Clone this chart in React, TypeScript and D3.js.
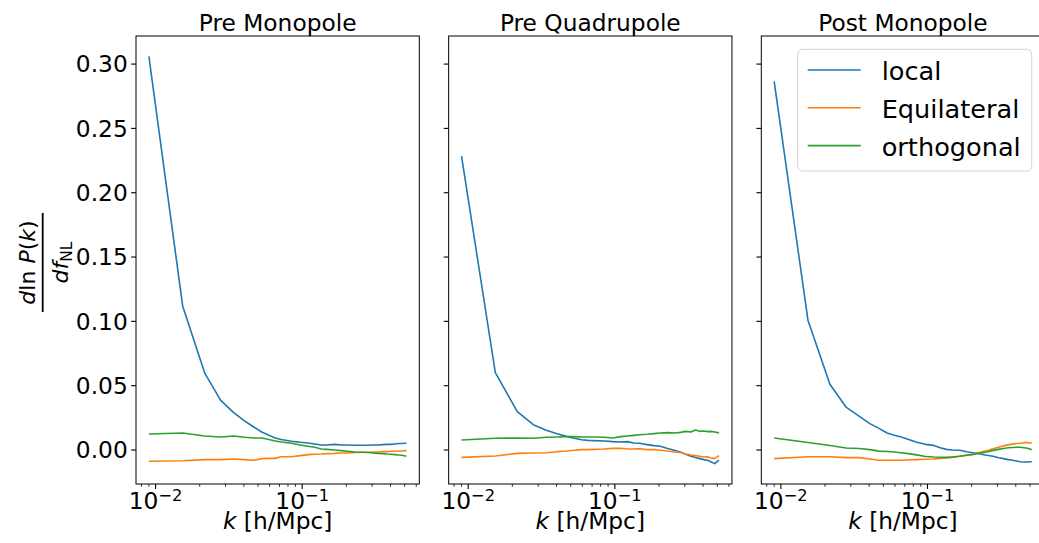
import React from "react";
import * as d3 from "d3";

// k bins [h/Mpc]
const K = [0.009, 0.0153, 0.0216, 0.0278, 0.0341, 0.0404, 0.0467, 0.053, 0.0593, 0.0655, 0.0718, 0.0844, 0.097, 0.1095, 0.122, 0.1346, 0.1472, 0.166, 0.185, 0.204, 0.229, 0.254, 0.28, 0.305, 0.33, 0.355, 0.38, 0.405, 0.43, 0.455, 0.48, 0.505, 0.514];

// Pre Monopole
const preMonoLocal = [0.306, 0.112, 0.06, 0.0386, 0.029, 0.0226, 0.0179, 0.014, 0.0114, 0.0094, 0.0081, 0.0068, 0.006, 0.0055, 0.0047, 0.0039, 0.0039, 0.0044, 0.0039, 0.0039, 0.0037, 0.0037, 0.0037, 0.0039, 0.0039, 0.0042, 0.0044, 0.0044, 0.0047, 0.005, 0.005, 0.0052, 0.0055];
const preMonoEqui = [-0.0088, -0.0083, -0.0075, -0.0075, -0.007, -0.0075, -0.008, -0.0067, -0.0065, -0.0065, -0.0052, -0.0052, -0.0044, -0.0036, -0.0033, -0.0031, -0.0028, -0.0026, -0.0023, -0.0023, -0.002, -0.0018, -0.0018, -0.0015, -0.0015, -0.0013, -0.0013, -0.001, -0.001, -0.0008, -0.0008, -0.0005, -0.0005];
const preMonoOrtho = [0.0124, 0.0132, 0.0109, 0.0101, 0.0109, 0.0099, 0.0093, 0.0093, 0.0081, 0.007, 0.0062, 0.0052, 0.0039, 0.0029, 0.0021, 0.0008, 0.0005, 0.0, -0.0005, -0.001, -0.0015, -0.0018, -0.002, -0.0023, -0.0026, -0.0028, -0.0031, -0.0033, -0.0036, -0.0039, -0.0041, -0.0046, -0.0049];

// Pre Quadrupole
const preQuadLocal = [0.2284, 0.0602, 0.0298, 0.0197, 0.0153, 0.0127, 0.0106, 0.0091, 0.008, 0.0075, 0.0073, 0.007, 0.0065, 0.0062, 0.0065, 0.0055, 0.0052, 0.0042, 0.0034, 0.0029, 0.0011, -0.0002, -0.0015, -0.0034, -0.0049, -0.0059, -0.0067, -0.0075, -0.008, -0.0093, -0.0106, -0.0085, -0.008];
const preQuadEqui = [-0.0057, -0.0047, -0.0026, -0.0023, -0.0021, -0.0013, -0.0008, -0.0002, 0.0003, 0.0003, 0.0005, 0.0008, 0.0013, 0.0013, 0.0008, 0.0008, 0.001, 0.0003, 0.0003, -0.0002, -0.0008, -0.0015, -0.002, -0.0031, -0.0039, -0.0044, -0.0049, -0.0054, -0.0052, -0.0065, -0.0065, -0.0049, -0.0044];
const preQuadOrtho = [0.0078, 0.0091, 0.0093, 0.0091, 0.0099, 0.0101, 0.0104, 0.0104, 0.0101, 0.0101, 0.0101, 0.0099, 0.0093, 0.0104, 0.0109, 0.0114, 0.0119, 0.0122, 0.0127, 0.0132, 0.0135, 0.0132, 0.0137, 0.0145, 0.014, 0.0156, 0.0145, 0.0148, 0.0143, 0.0145, 0.014, 0.0135, 0.0132];

// Post Monopole
const postMonoLocal = [0.2865, 0.1009, 0.0511, 0.0334, 0.0264, 0.0205, 0.0168, 0.0132, 0.0115, 0.0103, 0.0088, 0.0061, 0.0044, 0.0036, 0.0017, 0.0005, 0.0, -0.0002, -0.0013, -0.0021, -0.0031, -0.0041, -0.0049, -0.006, -0.0067, -0.0075, -0.008, -0.0086, -0.0091, -0.0093, -0.0093, -0.0091, -0.0091];
const postMonoEqui = [-0.0067, -0.0052, -0.0052, -0.0059, -0.0059, -0.007, -0.008, -0.008, -0.008, -0.008, -0.0078, -0.0075, -0.0072, -0.007, -0.0065, -0.0062, -0.0057, -0.0049, -0.0041, -0.0034, -0.0018, -0.0005, 0.0009, 0.0022, 0.0032, 0.004, 0.0046, 0.005, 0.0053, 0.0057, 0.0057, 0.0054, 0.0052];
const postMonoOrtho = [0.0093, 0.0058, 0.0035, 0.0015, 0.0012, 0.0003, -0.0009, -0.0012, -0.0016, -0.0021, -0.0026, -0.0038, -0.005, -0.0054, -0.0056, -0.0057, -0.0054, -0.0049, -0.0041, -0.0034, -0.0023, -0.0015, -0.0003, 0.0005, 0.0012, 0.0017, 0.002, 0.0021, 0.0021, 0.0018, 0.0013, 0.0005, 0.0002];

const PANEL_TITLES = ["Pre Monopole", "Pre Quadrupole", "Post Monopole"];
const PANEL_SERIES = [
  [preMonoLocal, preMonoEqui, preMonoOrtho],
  [preQuadLocal, preQuadEqui, preQuadOrtho],
  [postMonoLocal, postMonoEqui, postMonoOrtho],
];
const SERIES_NAMES = ["local", "Equilateral", "orthogonal"];
const COLORS = ["#1f77b4", "#ff7f0e", "#2ca02c"];
const Y_TICKS = [0, 0.05, 0.1, 0.15, 0.2, 0.25, 0.3];
const X_MAJOR = [0.01, 0.1];
const X_MAJOR_EXP = ["−2", "−1"];
const X_MINOR = [0.008, 0.009, 0.02, 0.03, 0.04, 0.05, 0.06, 0.07, 0.08, 0.09, 0.2, 0.3, 0.4, 0.5, 0.6];

const FONT = "DejaVu Sans";

export default function App() {
  const W = 1039, H = 543;
  const top = 36, bottom = 484, pw = 283.3, gap = 29.35, left0 = 136;
  const fs = 23.3;

  const lk = K.map(Math.log10);
  const lmin = d3.min(lk) as number, lmax = d3.max(lk) as number;
  const lm = (lmax - lmin) * 0.05;
  const x = d3.scaleLog().domain([10 ** (lmin - lm), 10 ** (lmax + lm)]).range([0, pw]);

  const all = PANEL_SERIES.flat(2);
  const ymin = d3.min(all) as number, ymax = d3.max(all) as number;
  const ym = (ymax - ymin) * 0.05;
  const y = d3.scaleLinear().domain([ymin - ym, ymax + ym]).range([bottom, top]);

  const line = d3.line<number>().x((_, i) => x(K[i])).y((d) => y(d));
  const [dx0, dx1] = x.domain();

  return (
    <svg width={W} height={H} style={{ position: "absolute", left: 0, top: 0, background: "#fff" }} fontFamily={FONT}>
      <rect x={0} y={0} width={W} height={H} fill="#fff" />
      <defs>
        {PANEL_TITLES.map((_, p) => (
          <clipPath id={`clip${p}`} key={p}>
            <rect x={0} y={top} width={pw} height={bottom - top} />
          </clipPath>
        ))}
      </defs>
      {PANEL_TITLES.map((title, p) => {
        const left = left0 + p * (pw + gap);
        return (
          <g key={p} transform={`translate(${left},0)`}>
            <g clipPath={`url(#clip${p})`}>
              {PANEL_SERIES[p].map((s, si) => (
                <path key={si} d={line(s) || ""} fill="none" stroke={COLORS[si]} strokeWidth={1.6} strokeLinejoin="round" />
              ))}
            </g>
            <rect x={0} y={top} width={pw} height={bottom - top} fill="none" stroke="#000" strokeWidth={1} />
            {Y_TICKS.map((t) => (
              <g key={t}>
                <line x1={-4.9} x2={0} y1={y(t)} y2={y(t)} stroke="#000" strokeWidth={1.1} />
                {p === 0 && (
                  <text x={-8.3} y={y(t) + 8.4} textAnchor="end" fontSize={fs} fill="#000">
                    {t.toFixed(2)}
                  </text>
                )}
              </g>
            ))}
            {X_MINOR.filter((k) => k >= dx0 && k <= dx1).map((k) => (
              <line key={k} x1={x(k)} x2={x(k)} y1={bottom} y2={bottom + 2.8} stroke="#000" strokeWidth={0.8} />
            ))}
            {X_MAJOR.map((k, i) => (
              <g key={k}>
                <line x1={x(k)} x2={x(k)} y1={bottom} y2={bottom + 4.9} stroke="#000" strokeWidth={1.1} />
                <text x={x(k)} y={509.3} textAnchor="middle" fontSize={fs} fill="#000">
                  <tspan>10</tspan>
                  <tspan fontSize={16.3} dy={-8.8}>{X_MAJOR_EXP[i]}</tspan>
                </text>
              </g>
            ))}
            <text x={pw / 2} y={528.5} textAnchor="middle" fontSize={fs} fill="#000">
              <tspan fontStyle="italic">k</tspan>
              <tspan> [h/Mpc]</tspan>
            </text>
            <text x={pw / 2} y={30.7} textAnchor="middle" fontSize={fs} fill="#000">
              {title}
            </text>
            {p === 2 && (
              <g>
                <rect x={797.7 - left} y={49.3} width={234} height={121.7} rx={5} ry={5} fill="#fff" fillOpacity={0.8} stroke="#d4d4d4" strokeWidth={1} />
                {SERIES_NAMES.map((n, i) => (
                  <g key={n}>
                    <line x1={807.7 - left} x2={860.7 - left} y1={70 + i * 37.8} y2={70 + i * 37.8} stroke={COLORS[i]} strokeWidth={1.6} />
                    <text x={881.7 - left} y={80 + i * 37.8} fontSize={25.6} fill="#000">{n}</text>
                  </g>
                ))}
              </g>
            )}
          </g>
        );
      })}
      <g transform="translate(42.7,262.5) rotate(-90)">
        <line x1={-49.5} x2={49.5} y1={0} y2={0} stroke="#000" strokeWidth={1.8} />
        <text x={0} y={-7.7} textAnchor="middle" fontSize={22} fill="#000">
          <tspan fontStyle="italic">d</tspan>
          <tspan>ln </tspan>
          <tspan fontStyle="italic">P</tspan>
          <tspan>(</tspan>
          <tspan fontStyle="italic">k</tspan>
          <tspan>)</tspan>
        </text>
        <text x={0} y={25.6} textAnchor="middle" fontSize={22} fill="#000">
          <tspan fontStyle="italic">df</tspan>
          <tspan fontSize={15.4} dy={3.5}>NL</tspan>
        </text>
      </g>
    </svg>
  );
}
